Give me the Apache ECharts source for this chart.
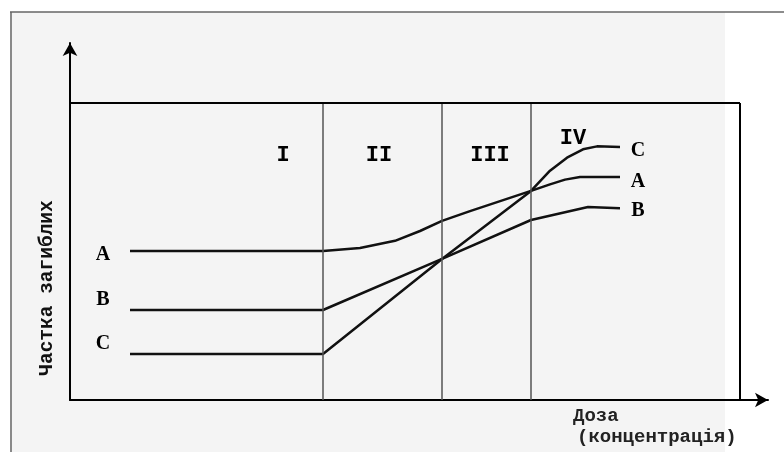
<!DOCTYPE html>
<html>
<head>
<meta charset="utf-8">
<script src="https://cdn.jsdelivr.net/npm/echarts@6/dist/echarts.min.js"></script>
<style>
  html, body { margin: 0; padding: 0; background: #fff; }
  #chart { width: 784px; height: 452px; }
</style>
</head>
<body>
<div id="chart"></div>
<script>
// curves: [dose, share of dead]
const curveA = [[6, 50.2], [25.3, 50.2], [29, 51.2], [32.5, 53.6], [35, 56.9], [37.2, 60.3], [40, 63.6], [46.1, 70.4], [48, 72.6], [49.5, 74.2], [51, 75.1], [55, 75.1]];
const curveB = [[6, 30.3], [25.3, 30.3], [37.2, 47.5], [46.1, 60.6], [51.8, 65], [55, 64.6]];
const curveC = [[6, 15.5], [25.3, 15.5], [37.2, 47.5], [46.1, 70.4], [48, 77.2], [49.7, 81.6], [51.3, 84.4], [52.7, 85.4], [55, 85.2]];

// zone boundaries and frame
const zoneBounds = [25.3, 37.2, 46.1];
const frameRight = 67;
const frameTop = 100;

// text labels
const zoneLabels = [['I', 21.3, 82.5], ['II', 30.9, 82.5], ['III', 42, 82.5], ['IV', 50.3, 88]];
const leftLabels = [['A', 3.3, 48.8], ['B', 3.3, 33.6], ['C', 3.3, 18.8]];
const rightLabels = [['C', 56.8, 83.8], ['A', 56.8, 73.5], ['B', 56.8, 63.6]];

const yName = 'Частка загиблих';
const xName1 = 'Доза';
const xName2 = '(концентрація)';

const font = "'Liberation Mono', 'Courier New', monospace";
const letterFont = "'Liberation Serif', 'Courier New', serif";

const chart = echarts.init(document.getElementById('chart'));

const lineStyle = { color: '#111', width: 2.5 };

function textSeries(items, size, family) {
  return {
    type: 'scatter',
    symbol: 'circle',
    symbolSize: 1,
    itemStyle: { color: 'rgba(0,0,0,0)', opacity: 1 },
    silent: true,
    clip: false,
    data: items.map(d => ({ value: [d[1], d[2]], name: d[0] })),
    label: {
      show: true,
      position: 'inside',
      formatter: p => p.name,
      color: '#000',
      opacity: 1,
      fontFamily: family,
      fontWeight: 'bold',
      fontSize: size
    }
  };
}

const frameLines = zoneBounds.map(x => [{ coord: [x, 0] }, { coord: [x, frameTop] }]);

chart.setOption({
  animation: false,
  backgroundColor: '#fff',
  graphic: [
    { type: 'rect', shape: { x: 10, y: 12, width: 715, height: 440 }, style: { fill: '#f4f4f4' }, z: -10 },
    { type: 'line', shape: { x1: 10, y1: 12, x2: 784, y2: 12 }, style: { stroke: '#666', lineWidth: 1.5 }, z: -9 },
    { type: 'line', shape: { x1: 11, y1: 12, x2: 11, y2: 452 }, style: { stroke: '#666', lineWidth: 1.5 }, z: -9 },
    {
      type: 'text', x: 47, y: 288, rotation: Math.PI / 2,
      style: { text: yName, font: 'bold 19.5px ' + font, fill: '#111', align: 'center', verticalAlign: 'middle' }
    },
    { type: 'text', x: 573, y: 416, style: { text: xName1, font: 'bold 19px ' + font, fill: '#222', verticalAlign: 'middle' } },
    { type: 'text', x: 577, y: 437, style: { text: xName2, font: 'bold 19px ' + font, fill: '#222', verticalAlign: 'middle' } }
  ],
  grid: { left: 70, right: 16, top: 43, bottom: 52 },
  xAxis: {
    type: 'value', min: 0, max: 69.8,
    axisLine: { lineStyle: { color: '#000', width: 2 }, symbol: ['none', 'arrow'], symbolSize: [11, 13] },
    axisTick: { show: false }, axisLabel: { show: false }, splitLine: { show: false }
  },
  yAxis: {
    type: 'value', min: 0, max: 120.2,
    axisLine: { show: true, lineStyle: { color: '#000', width: 2 }, symbol: ['none', 'arrow'], symbolSize: [11, 13] },
    axisTick: { show: false }, axisLabel: { show: false }, splitLine: { show: false }
  },
  series: [
    {
      type: 'line', data: [], silent: true,
      markLine: {
        symbol: 'none', silent: true, label: { show: false },
        lineStyle: { color: '#555', width: 1.5, type: 'solid' },
        data: frameLines
      }
    },
    {
      type: 'line', data: [], silent: true,
      markLine: {
        symbol: 'none', silent: true, label: { show: false },
        lineStyle: { color: '#000', width: 2, type: 'solid' },
        data: [
          [{ coord: [0, frameTop] }, { coord: [frameRight, frameTop] }],
          [{ coord: [frameRight, 0] }, { coord: [frameRight, frameTop] }]
        ]
      }
    },
    { name: 'A', type: 'line', data: curveA, symbol: 'none', lineStyle: lineStyle },
    { name: 'B', type: 'line', data: curveB, symbol: 'none', lineStyle: lineStyle },
    { name: 'C', type: 'line', data: curveC, symbol: 'none', lineStyle: lineStyle },
    textSeries(zoneLabels, 22, font),
    textSeries(leftLabels, 20, letterFont),
    textSeries(rightLabels, 20, letterFont)
  ]
});
</script>
</body>
</html>
